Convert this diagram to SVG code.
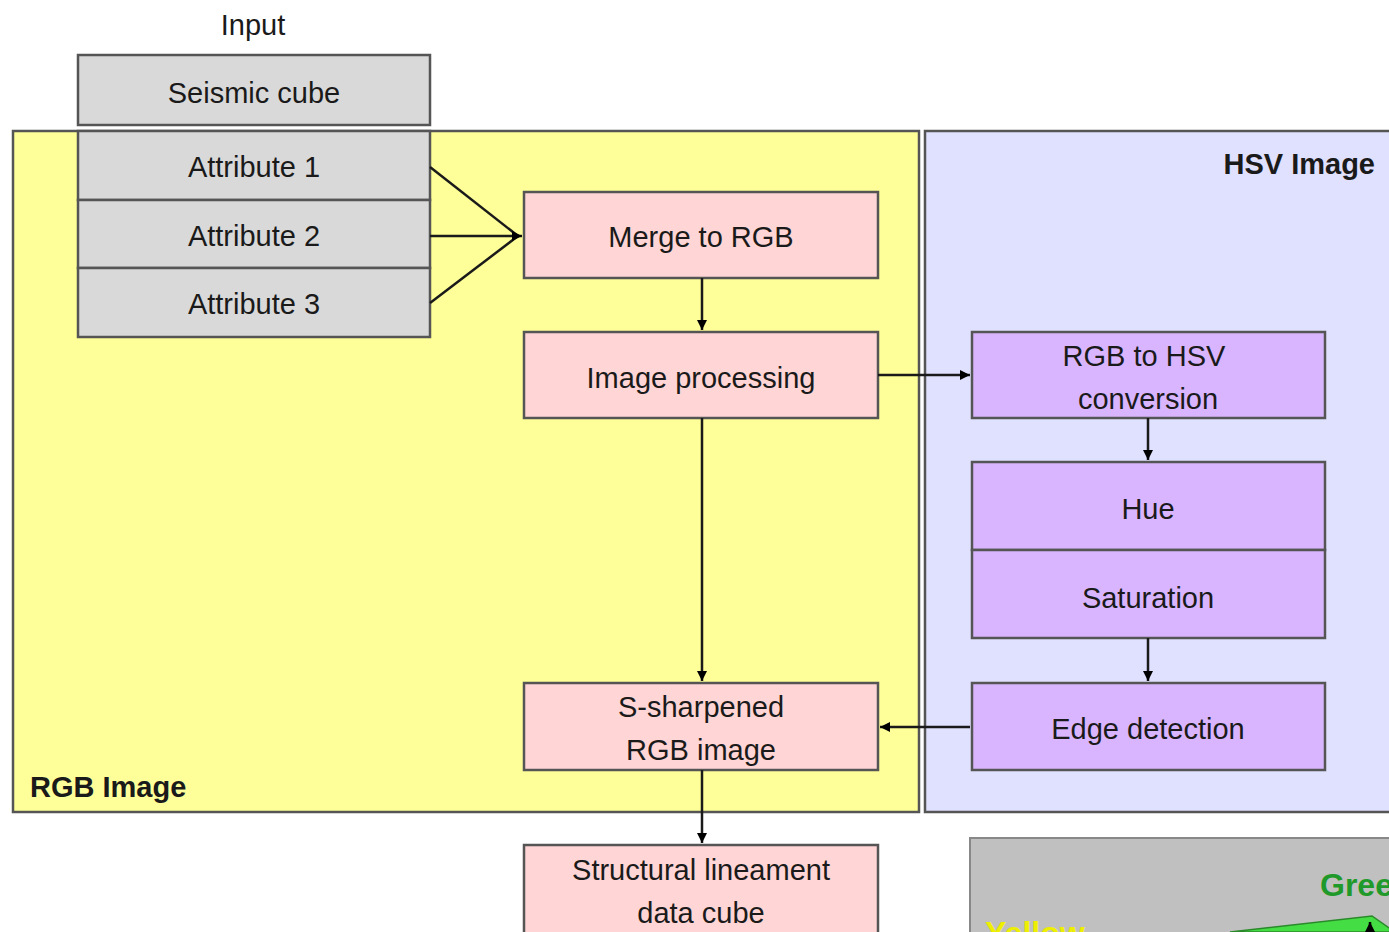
<svg xmlns="http://www.w3.org/2000/svg" width="1389" height="932" viewBox="0 0 1389 932">
<style>
text{font-family:"Liberation Sans",Arial,sans-serif;font-size:29px;fill:#1a1a1a;text-anchor:middle}
.in{fill:#d9d9d9;stroke:#555;stroke-width:2.5}
.pk{fill:#ffd5d5;stroke:#555;stroke-width:2.5}
.pu{fill:#d9b5ff;stroke:#555;stroke-width:2.5}
.b{font-weight:bold}
.c{stroke:#1a1a1a;stroke-width:2.5;fill:none}
</style>
<defs>
<marker id="ah" viewBox="0 0 10 10" refX="10" refY="5" markerWidth="4" markerHeight="4" orient="auto" markerUnits="strokeWidth">
<path d="M0,0 L10,5 L0,10 z" fill="#000"/>
</marker>
</defs>
<g id="panel-rgb"><rect x="13" y="131" width="906" height="681" fill="#ffff99" stroke="#555" stroke-width="2.5"/>
<text x="30" y="797" class="b" style="text-anchor:start">RGB Image</text></g>
<g id="panel-hsv"><rect x="925" y="131" width="470" height="681" fill="#e0e0ff" stroke="#555" stroke-width="2.5"/>
<text x="1375" y="174" class="b" style="text-anchor:end">HSV Image</text></g>
<g id="input-label"><text x="253" y="35">Input</text></g>
<g id="seismic"><rect class="in" x="78" y="55" width="352" height="70"/><text x="254" y="103">Seismic cube</text></g>
<g id="attr1"><rect class="in" x="78" y="131" width="352" height="69"/><text x="254" y="177">Attribute 1</text></g>
<g id="attr2"><rect class="in" x="78" y="200" width="352" height="68"/><text x="254" y="246">Attribute 2</text></g>
<g id="attr3"><rect class="in" x="78" y="268" width="352" height="69"/><text x="254" y="314">Attribute 3</text></g>
<g id="merge"><rect class="pk" x="524" y="192" width="354" height="86"/><text x="701" y="247">Merge to RGB</text></g>
<g id="improc"><rect class="pk" x="524" y="332" width="354" height="86"/><text x="701" y="388">Image processing</text></g>
<g id="ssharp"><rect class="pk" x="524" y="683" width="354" height="87"/><text x="701" y="717">S-sharpened</text><text x="701" y="760">RGB image</text></g>
<g id="structural"><rect class="pk" x="524" y="845" width="354" height="95"/><text x="701" y="880">Structural lineament</text><text x="701" y="923">data cube</text></g>
<g id="rgb2hsv"><rect class="pu" x="972" y="332" width="353" height="86"/><text x="1144" y="366">RGB to HSV</text><text x="1148" y="409">conversion</text></g>
<g id="hue"><rect class="pu" x="972" y="462" width="353" height="88"/><text x="1148" y="519">Hue</text></g>
<g id="saturation"><rect class="pu" x="972" y="550" width="353" height="88"/><text x="1148" y="608">Saturation</text></g>
<g id="edge"><rect class="pu" x="972" y="683" width="353" height="87"/><text x="1148" y="739">Edge detection</text></g>
<g id="colorwheel">
<rect x="970" y="838" width="430" height="110" fill="#c0c0c0" stroke="#888" stroke-width="2"/>
<polygon points="1230,932 1372,916 1395,932" fill="#44dd44" stroke="#2a8a2a" stroke-width="1.5"/>
<path d="M1370,932 L1370,922" stroke="#000" stroke-width="2.5" marker-end="url(#ah)"/>
<text x="1320" y="896" class="b" style="text-anchor:start;fill:#1f9a2a;font-size:32px">Green</text>
<text x="985" y="944" class="b" style="text-anchor:start;fill:#eeee00;font-size:32px">Yellow</text>
</g>
<g id="connectors">
<path class="c" d="M430,167 L518,236"/>
<path class="c" d="M430,303 L518,236"/>
<path class="c" d="M430,236 L522,236" marker-end="url(#ah)"/>
<path class="c" d="M702,278 L702,330" marker-end="url(#ah)"/>
<path class="c" d="M878,375 L970,375" marker-end="url(#ah)"/>
<path class="c" d="M1148,418 L1148,460" marker-end="url(#ah)"/>
<path class="c" d="M1148,638 L1148,681" marker-end="url(#ah)"/>
<path class="c" d="M702,418 L702,681" marker-end="url(#ah)"/>
<path class="c" d="M970,727 L880,727" marker-end="url(#ah)"/>
<path class="c" d="M702,770 L702,843" marker-end="url(#ah)"/>
</g>
</svg>
